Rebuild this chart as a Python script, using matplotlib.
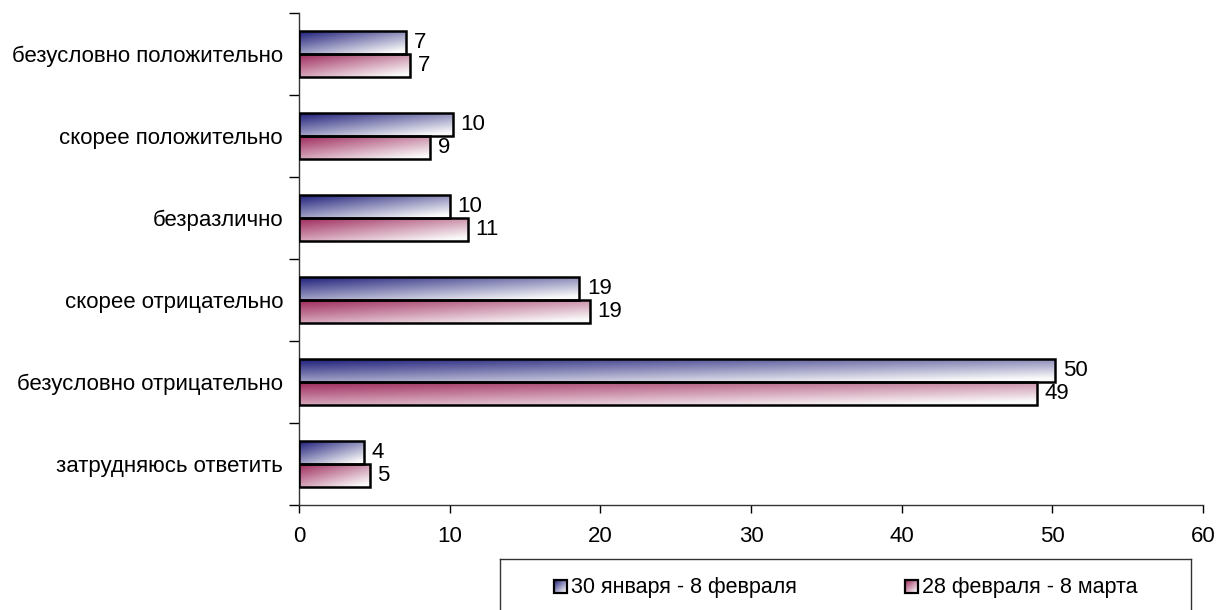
import numpy as np
import matplotlib
matplotlib.use("Agg")
import matplotlib.pyplot as plt
from matplotlib.patches import Rectangle

plt.rcParams['font.family'] = ['Liberation Sans', 'DejaVu Sans']

categories = ["безусловно положительно", "скорее положительно", "безразлично",
              "скорее отрицательно", "безусловно отрицательно", "затрудняюсь ответить"]
series_names = ["30 января - 8 февраля", "28 февраля - 8 марта"]
values_jan = [7.1, 10.2, 10.0, 18.6, 50.2, 4.3]
values_feb = [7.4, 8.7, 11.2, 19.3, 49.0, 4.7]
labels_jan = ["7", "10", "10", "19", "50", "4"]
labels_feb = ["7", "9", "11", "19", "49", "5"]
xticks = [0, 10, 20, 30, 40, 50, 60]

dark_colors = [(0.12, 0.12, 0.48), (0.62, 0.16, 0.36)]

def grad_img(dark):
    n = 64
    u = np.linspace(0, 1, n)[None, :]
    v = np.linspace(0, 1, n)[:, None]
    t = np.clip(0.5 * u + 0.6 * v, 0, 1)
    dark = np.array(dark)
    img = dark[None, None, :] * (1 - t[..., None]) + np.array([0.98, 0.98, 0.98])[None, None, :] * t[..., None]
    return img

W, H = 1219, 610
fig = plt.figure(figsize=(W / 100, H / 100), dpi=100)
ax = fig.add_axes([299 / W, 1 - 505 / H, (1203 - 299) / W, (505 - 13) / H])

n = len(categories)
bh = 0.28
ax.set_xlim(0, 60)
ax.set_ylim(n, 0)
fs = 16

for i in range(n):
    yc = i + 0.5
    for s, (vals, labs) in enumerate([(values_jan, labels_jan), (values_feb, labels_feb)]):
        y0 = yc - bh + s * bh
        val = vals[i]
        rect = Rectangle((0, y0), val, bh, facecolor='none', edgecolor='black', linewidth=1.8, zorder=3)
        ax.add_patch(rect)
        im = ax.imshow(grad_img(dark_colors[s]), extent=(0, val, y0 + bh, y0), aspect='auto',
                       interpolation='bilinear', zorder=2)
        im.set_clip_path(rect)
        ax.text(val + 0.5, y0 + bh / 2, labs[i], va='center', ha='left', fontsize=fs, zorder=4)

ax.set_yticks(np.arange(0, n + 1))
ax.set_yticklabels([])
ax.set_yticks(np.arange(n) + 0.5, minor=True)
ax.set_yticklabels(categories, minor=True, fontsize=fs)
ax.tick_params(axis='y', which='minor', length=0, pad=11.5)
ax.tick_params(axis='y', which='major', length=7, direction='out', width=1)
ax.set_xticks(xticks)
ax.set_xticklabels([str(x) for x in xticks], fontsize=fs)
ax.tick_params(axis='x', length=6, direction='out', width=1, pad=9)
ax.spines['top'].set_visible(False)
ax.spines['right'].set_visible(False)
for sp in ('left', 'bottom'):
    ax.spines[sp].set_linewidth(1)
    ax.spines[sp].set_color('#333333')

# legend box (pixel-based local coordinates)
bx0, bx1, by0 = 500, 1191, 559
lax = fig.add_axes([bx0 / W, -10 / H, (bx1 - bx0) / W, (H - by0 + 10) / H])
lax.set_xlim(0, bx1 - bx0)
lax.set_ylim(H - by0 + 10, 0)
lax.set_xticks([])
lax.set_yticks([])
for sp in lax.spines.values():
    sp.set_linewidth(1)
    sp.set_color('#333333')
sq = 13
for s, (sx, tx) in enumerate([(54, 71), (405, 422)]):
    r = Rectangle((sx, 21), sq, sq, facecolor='none', edgecolor='black', linewidth=1.6, zorder=3)
    lax.add_patch(r)
    im = lax.imshow(grad_img(dark_colors[s]), extent=(sx, sx + sq, 21 + sq, 21), aspect='auto', zorder=2)
    im.set_clip_path(r)
    lax.text(tx, 28, series_names[s], va='center', ha='left', fontsize=15.5)

fig.savefig("out.png", dpi=100)
